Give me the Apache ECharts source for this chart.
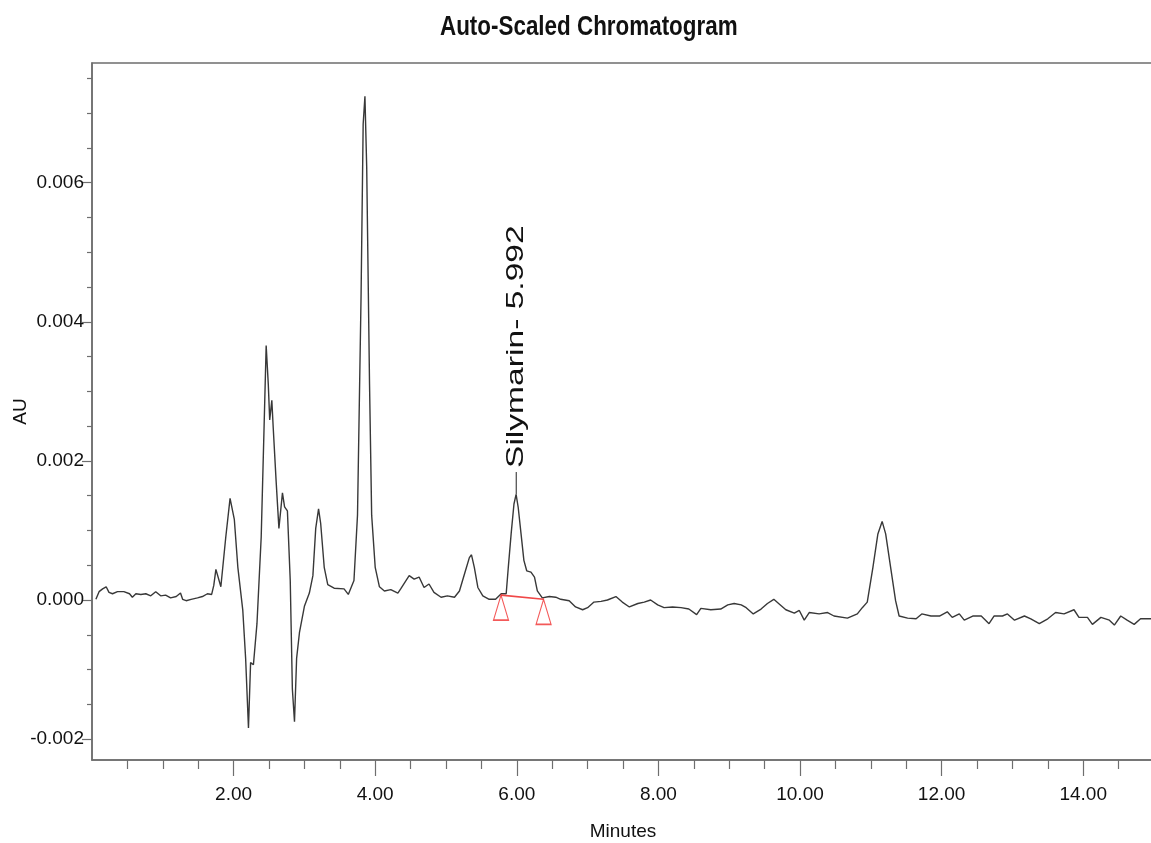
<!DOCTYPE html>
<html>
<head>
<meta charset="utf-8">
<title>Auto-Scaled Chromatogram</title>
<script src="https://cdn.jsdelivr.net/npm/echarts@6/dist/echarts.min.js"></script>
<style>
  html, body { margin: 0; padding: 0; background: #fff; }
  #chart { width: 1151px; height: 843px; }
</style>
</head>
<body>
<div id="chart"></div>
<script>
// retention time (min) and absorbance (AU)
const minutes = [
  0.055, 0.10, 0.15, 0.20, 0.24, 0.29, 0.36, 0.45, 0.53, 0.57, 0.62, 0.69, 0.76, 0.83, 0.90, 0.97,
  1.04, 1.11, 1.19, 1.25, 1.28, 1.33, 1.40, 1.49, 1.56, 1.63, 1.69, 1.72, 1.75, 1.82, 1.89, 1.95,
  2.01, 2.06, 2.13, 2.17, 2.21, 2.24, 2.28, 2.33, 2.39, 2.43, 2.46, 2.49, 2.51, 2.54, 2.56, 2.60,
  2.64, 2.69, 2.72, 2.76, 2.80, 2.83, 2.86, 2.89, 2.93, 3.00, 3.07, 3.12, 3.16, 3.20, 3.23, 3.28,
  3.33, 3.42, 3.56, 3.62, 3.70, 3.75, 3.80, 3.83, 3.855, 3.88, 3.92, 3.95, 4.00, 4.06, 4.13, 4.22,
  4.32, 4.36, 4.48, 4.55, 4.62, 4.69, 4.76, 4.83, 4.93, 5.02, 5.12, 5.19, 5.26, 5.33, 5.36, 5.40,
  5.45, 5.52, 5.61, 5.70, 5.78, 5.85, 5.88, 5.92, 5.96, 5.99, 6.02, 6.06, 6.10, 6.14, 6.20, 6.25,
  6.29, 6.36, 6.46, 6.55, 6.62, 6.74, 6.83, 6.93, 7.00, 7.09, 7.19, 7.28, 7.40, 7.49, 7.59, 7.71,
  7.80, 7.89, 7.99, 8.08, 8.20, 8.32, 8.43, 8.54, 8.60, 8.74, 8.88, 8.98, 9.07, 9.17, 9.24, 9.34,
  9.45, 9.54, 9.63, 9.71, 9.80, 9.92, 9.99, 10.06, 10.13, 10.27, 10.39, 10.48, 10.67, 10.81, 10.88, 10.95,
  11.03, 11.10, 11.16, 11.21, 11.28, 11.35, 11.40, 11.52, 11.64, 11.72, 11.85, 11.97, 12.08, 12.15, 12.25, 12.32,
  12.44, 12.56, 12.67, 12.74, 12.86, 12.93, 13.03, 13.17, 13.26, 13.38, 13.50, 13.61, 13.73, 13.87, 13.94, 14.06,
  14.13, 14.25, 14.37, 14.44, 14.53, 14.62, 14.72, 14.81, 14.96
];
const au = [
  0.00001, 0.00012, 0.00016, 0.00019, 0.00011, 0.00009, 0.00012, 0.00012, 0.00009, 0.00004, 0.00009, 0.00008, 0.00009, 0.00006, 0.00012, 0.00006,
  0.00007, 0.00003, 0.00005, 0.00010, 0.00001, -0.00001, 0.00001, 0.00003, 0.00005, 0.00009, 0.00008, 0.00021, 0.00044, 0.00019, 0.00091, 0.00146,
  0.00116, 0.00047, -0.00015, -0.00084, -0.00184, -0.00090, -0.00093, -0.00034, 0.00091, 0.00247, 0.00366, 0.00310, 0.00259, 0.00287, 0.00247, 0.00172,
  0.00103, 0.00154, 0.00134, 0.00128, 0.00028, -0.00128, -0.00175, -0.00084, -0.00047, -0.00009, 0.00010, 0.00035, 0.00103, 0.00131, 0.00110, 0.00047,
  0.00022, 0.00017, 0.00016, 0.00008, 0.00028, 0.00122, 0.00435, 0.00684, 0.00724, 0.00622, 0.00310, 0.00122, 0.00047, 0.00019, 0.00013, 0.00015,
  0.00010, 0.00016, 0.00035, 0.00030, 0.00033, 0.00018, 0.00023, 0.00011, 0.00004, 0.00006, 0.00004, 0.00013, 0.00037, 0.00061, 0.00065, 0.00047,
  0.00018, 0.00006, 0.00001, 0.00001, 0.00009, 0.00009, 0.00047, 0.00095, 0.00138, 0.00152, 0.00133, 0.00095, 0.00057, 0.00042, 0.00040, 0.00033,
  0.00013, 0.00003, 0.00005, 0.00004, 0.00001, -0.00001, -0.00010, -0.00014, -0.00011, -0.00003, -0.00002, 0.00000, 0.00005, -0.00003, -0.00010, -0.00005,
  -0.00003, 0.00000, -0.00007, -0.00011, -0.00010, -0.00011, -0.00013, -0.00021, -0.00012, -0.00014, -0.00013, -0.00007, -0.00005, -0.00007, -0.00011, -0.00020,
  -0.00013, -0.00005, 0.00001, -0.00006, -0.00014, -0.00019, -0.00015, -0.00029, -0.00018, -0.00020, -0.00018, -0.00023, -0.00026, -0.00020, -0.00011, -0.00003,
  0.00047, 0.00095, 0.00113, 0.00095, 0.00047, -0.00001, -0.00023, -0.00026, -0.00027, -0.00020, -0.00023, -0.00023, -0.00017, -0.00025, -0.00020, -0.00029,
  -0.00023, -0.00023, -0.00034, -0.00023, -0.00023, -0.00020, -0.00029, -0.00023, -0.00027, -0.00034, -0.00027, -0.00018, -0.00020, -0.00014, -0.00025, -0.00025,
  -0.00035, -0.00025, -0.00029, -0.00036, -0.00023, -0.00029, -0.00035, -0.00027, -0.00027
];

// integrated peak
const peakLabel = 'Silymarin- 5.992';
const peakTime = 5.992;
const peakTop = 0.00152;
const peakLabelBase = 0.00184;
const integStart = [5.777, 0.00007];
const integEnd = [6.378, 0.00001];

// ticks
const xMajor = [2, 4, 6, 8, 10, 12, 14];
const xMinor = [0.5, 1, 1.5, 2.5, 3, 3.5, 4.5, 5, 5.5, 6.5, 7, 7.5, 8.5, 9, 9.5, 10.5, 11, 11.5, 12.5, 13, 13.5, 14.5];
const yMajor = [-0.002, 0, 0.002, 0.004, 0.006];
const yMinor = [-0.0015, -0.001, -0.0005, 0.0005, 0.001, 0.0015, 0.0025, 0.003, 0.0035, 0.0045, 0.005, 0.0055, 0.0065, 0.007, 0.0075];

const FONT = "'Liberation Sans', Arial, sans-serif";
const AXIS = '#6e6e6e';
const X_MIN = 0, X_MAX = 15, Y_MIN = -0.0023, Y_MAX = 0.00772;

const chart = echarts.init(document.getElementById('chart'), null, { renderer: 'canvas' });

const trace = minutes.map((t, i) => [t, au[i]]);

const option = {
  animation: false,
  backgroundColor: '#fff',
  grid: {
    left: 92, right: -3, top: 63, bottom: 83,
    containLabel: false, outerBoundsMode: 'none',
    show: true, borderColor: AXIS, borderWidth: 1.5, backgroundColor: 'transparent'
  },
  xAxis: [{
    type: 'value', min: X_MIN, max: X_MAX, position: 'bottom',
    name: 'Minutes', nameLocation: 'middle', nameGap: 62, nameMoveOverlap: false,
    nameTextStyle: { fontFamily: FONT, fontSize: 19, color: '#111' },
    axisLine: { show: true, onZero: false, lineStyle: { color: AXIS, width: 1.5 } },
    axisTick: { show: true, customValues: xMajor, length: 16, lineStyle: { color: AXIS, width: 1.2 } },
    axisLabel: { show: true, customValues: xMajor, margin: 25, fontFamily: FONT, fontSize: 19, color: '#111',
      formatter: v => v.toFixed(2) },
    splitLine: { show: false }
  }, {
    type: 'value', min: X_MIN, max: X_MAX, position: 'bottom',
    axisLine: { show: false, onZero: false },
    axisTick: { show: true, customValues: xMinor, length: 9, lineStyle: { color: AXIS, width: 1.2 } },
    axisLabel: { show: false },
    splitLine: { show: false }
  }],
  yAxis: [{
    type: 'value', min: Y_MIN, max: Y_MAX, position: 'left',
    name: 'AU', nameLocation: 'middle', nameGap: 62, nameRotate: 90, nameMoveOverlap: false,
    nameTextStyle: { fontFamily: FONT, fontSize: 19, color: '#111' },
    axisLine: { show: true, onZero: false, lineStyle: { color: AXIS, width: 1.5 } },
    axisTick: { show: true, customValues: yMajor, length: 10, lineStyle: { color: AXIS, width: 1.2 } },
    axisLabel: { show: true, customValues: yMajor, margin: 8, fontFamily: FONT, fontSize: 19, color: '#111',
      formatter: v => v.toFixed(3) },
    splitLine: { show: false }
  }, {
    type: 'value', min: Y_MIN, max: Y_MAX, position: 'left',
    axisLine: { show: false, onZero: false },
    axisTick: { show: true, customValues: yMinor, length: 5, lineStyle: { color: AXIS, width: 1.2 } },
    axisLabel: { show: false },
    splitLine: { show: false }
  }],
  series: [{
    name: 'trace', type: 'line', data: trace,
    showSymbol: false, smooth: false,
    lineStyle: { color: '#383838', width: 1.4 },
    z: 3
  }, {
    name: 'baseline', type: 'line', data: [integStart, integEnd],
    showSymbol: false,
    lineStyle: { color: '#f04848', width: 1.6 },
    z: 4
  }, {
    name: 'markers', type: 'scatter', data: [integStart, integEnd],
    symbol: 'triangle', symbolSize: [15, 25], symbolOffset: [0, '50%'],
    itemStyle: { color: 'rgba(0,0,0,0)', borderColor: '#f03030', borderWidth: 1.3 },
    z: 5
  }, {
    name: 'tag', type: 'line', data: [[peakTime, peakTop], [peakTime, peakLabelBase]],
    showSymbol: false,
    lineStyle: { color: '#222', width: 1 },
    z: 4
  }]
};

chart.setOption(option);

// rotated peak name, placed from the data position of the peak; condensed title
const p = chart.convertToPixel({ xAxisIndex: 0, yAxisIndex: 0 }, [peakTime, peakLabelBase]);
chart.setOption({
  graphic: [{
    type: 'text', x: 440, y: 14, scaleX: 0.83,
    style: {
      text: 'Auto-Scaled Chromatogram', fill: '#111',
      font: "bold 27px 'Liberation Sans', Arial, sans-serif",
      align: 'left', verticalAlign: 'top'
    }
  }, {
    type: 'text', x: p[0], y: p[1] - 4, rotation: Math.PI / 2, scaleX: 1.4,
    style: {
      text: peakLabel, fill: '#111',
      font: "24px 'Liberation Sans', Arial, sans-serif",
      align: 'left', verticalAlign: 'middle'
    },
    z: 10
  }]
});
</script>
</body>
</html>
